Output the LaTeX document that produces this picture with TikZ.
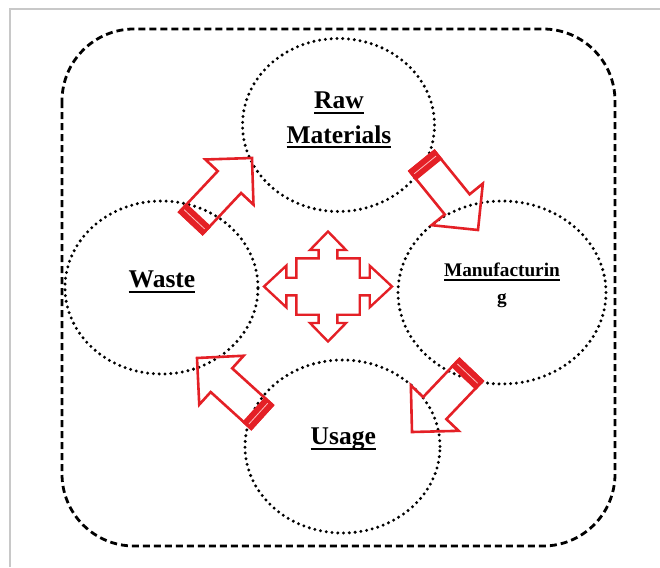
\documentclass[tikz,border=0pt]{standalone}
\usepackage{fontspec}
\setmainfont{Liberation Serif}
\usetikzlibrary{shapes.geometric,calc}

\definecolor{arrowred}{RGB}{228,32,38}
\definecolor{framegray}{RGB}{200,200,200}

% underline at a fixed depth, crossing descenders
\newcommand{\uword}[1]{\setbox0\hbox{#1}\rlap{\rule[-0.2em]{\wd0}{0.075em}}\box0}

% block arrow from tail #1 to tip #2, with a solid band at the tail
\newcommand{\blockarrow}[2]{%
  \coordinate (hb) at ($(#2)!33pt!(#1)$);
  \coordinate (tb) at ($(#1)!10pt!(#2)$);
  \coordinate (tm) at ($(#1)!5pt!(#2)$);
  \draw[arrowline] ($(#1)!16pt!90:(#2)$) -- ($(hb)!16pt!90:(#2)$)
    -- ($(hb)!33pt!90:(#2)$) -- (#2) -- ($(hb)!33pt!-90:(#2)$)
    -- ($(hb)!16pt!-90:(#2)$) -- ($(#1)!16pt!-90:(#2)$) -- cycle;
  \filldraw[arrowline,fill=arrowred] ($(#1)!16pt!90:(#2)$) -- ($(tb)!16pt!90:(#2)$)
    -- ($(tb)!16pt!-90:(#2)$) -- ($(#1)!16pt!-90:(#2)$) -- cycle;
  \draw[red!25,line width=0.8pt] ($(tm)!14pt!90:(#2)$) -- ($(tm)!14pt!-90:(#2)$);
}

\begin{document}
\begin{tikzpicture}[x=1pt,y=-1pt,
	bubble/.style={ellipse,draw,line width=3.3pt,dash pattern=on 0pt off 5.8pt,
		line cap=round,inner sep=0pt},
	lbl/.style={font=\bfseries\fontsize{25.5}{34.5}\selectfont,align=center,inner sep=0pt},
	smalllbl/.style={font=\bfseries\fontsize{19.3}{26.5}\selectfont,align=center,inner sep=0pt},
	arrowline/.style={draw=arrowred,line width=2.6pt,line join=miter},]
\useasboundingbox (0,0) rectangle (660,567);
\draw[framegray,line width=1.5pt] (10,567) -- (10,9) -- (660,9);
\draw[line width=2.8pt,dash pattern=on 7pt off 4pt,rounded corners=72pt] (62,29) rectangle (615,546);

% the four stages
\node[bubble,minimum width=192pt,minimum height=173pt] (raw) at (338.5,125) {};
\node[bubble,minimum width=193pt,minimum height=173pt] (waste) at (161.5,287.5) {};
\node[bubble,minimum width=208pt,minimum height=183pt] (manu) at (502,292.5) {};
\node[bubble,minimum width=195pt,minimum height=173pt] (usage) at (342.5,446.5) {};

\node[lbl,anchor=base] (rawtxt) at (339,143) {\uword{Raw}\\\uword{Materials}};
\node[lbl,anchor=base] (wastetxt) at (162,287.5) {\uword{Waste}};
\node[smalllbl,anchor=base] (manutxt) at (502,303.3) {\uword{Manufacturin}\\g};
\node[lbl,anchor=base] (usagetxt) at (343.3,444.8) {\uword{Usage}};

% cycle arrows
\coordinate (wr-t) at (191,223);  \coordinate (wr-h) at (252,158);
\coordinate (rm-t) at (422,161);  \coordinate (rm-h) at (478,230);
\coordinate (mu-t) at (471,370);  \coordinate (mu-h) at (412,432);
\coordinate (uw-t) at (262,417);  \coordinate (uw-h) at (197,358);
\blockarrow{wr-t}{wr-h}
\blockarrow{rm-t}{rm-h}
\blockarrow{mu-t}{mu-h}
\blockarrow{uw-t}{uw-h}

% centre four-way arrow
\begin{scope}[shift={(328,286.5)}]
\draw[arrowline,line width=2.4pt] (0,-55) -- (18,-36.5) -- (9.4,-36.5) -- (9.4,-28.2)
	-- (31.7,-28.2) -- (31.7,-8.8) -- (41.7,-8.8) -- (41.7,-20.8) -- (64,0)
	-- (41.7,20.8) -- (41.7,8.8) -- (31.7,8.8) -- (31.7,28.2) -- (9.4,28.2)
	-- (9.4,36.5) -- (18,36.5) -- (0,55) -- (-18,36.5) -- (-9.4,36.5)
	-- (-9.4,28.2) -- (-31.7,28.2) -- (-31.7,8.8) -- (-41.7,8.8) -- (-41.7,20.8)
	-- (-64,0) -- (-41.7,-20.8) -- (-41.7,-8.8) -- (-31.7,-8.8) -- (-31.7,-28.2)
	-- (-9.4,-28.2) -- (-9.4,-36.5) -- (-18,-36.5) -- cycle;
\end{scope}
\end{tikzpicture}
\end{document}
